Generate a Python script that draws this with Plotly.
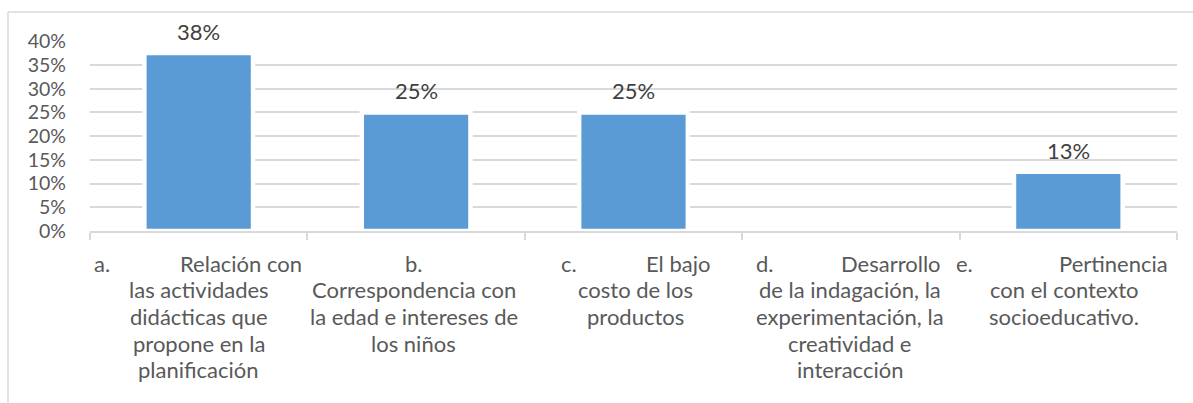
import plotly.graph_objects as go

# ---- data ----
letters = ["a.", "b.", "c.", "d.", "e."]
first_words = ["Relación con", "", "El bajo", "Desarrollo", "Pertinencia"]
rest_lines = [
    ["las actividades", "didácticas que", "propone en la", "planificación"],
    ["Correspondencia con", "la edad e intereses de", "los niños"],
    ["costo de los", "productos"],
    ["de la indagación, la", "experimentación, la", "creatividad e", "interacción"],
    ["con el contexto", "socioeducativo."],
]
categories = [
    " ".join([l] + ([f] if f else []) + r)
    for l, f, r in zip(letters, first_words, rest_lines)
]
values = [0.375, 0.25, 0.25, 0.0, 0.125]
value_labels = ["38%", "25%", "25%", "", "13%"]

# ---- layout / styling parameters ----
FONT = "Lato"
TXT = "#595959"
GRID = "#d9d9d9"
FS = 22
FS_Y = 19.5
W, H = 1193, 403
ML, MR, MT, MB = 90, 16, 41, 172.3
plot_w = W - ML - MR
plot_h = H - MT - MB
block_shift = [-0.5, -2.5, 2, -2, -6.5]      # center offset of justified first line (px)
block_half = [106, 0, 76.5, 94.5, 108]       # half-width of justified first line
center_shift = [0, -2.5, 2, -1, -4]          # offset of centered lines (px)
line0 = 263 - (H - MB)                        # first label line center rel. to axis (px)
line_step = 26.6

fig = go.Figure()
fig.add_trace(go.Bar(
    x=categories, y=values,
    marker=dict(color="#5b9bd5", line=dict(color="white", width=4.5)),
    hoverinfo="skip",
))

annotations = []
# data labels
for c, v, t in zip(categories, values, value_labels):
    if t:
        annotations.append(dict(x=c, y=v, xref="x", yref="y", text=t, showarrow=False,
                                yanchor="middle", yshift=21.5,
                                font=dict(family=FONT, size=FS, color="#404040")))
# category labels
for i, c in enumerate(categories):
    sh = block_shift[i]
    if first_words[i]:
        annotations.append(dict(x=c, y=0, xref="x", yref="paper", text=letters[i],
                                showarrow=False, xanchor="left", yanchor="middle",
                                xshift=sh - block_half[i], yshift=-line0,
                                font=dict(family=FONT, size=FS, color=TXT)))
        annotations.append(dict(x=c, y=0, xref="x", yref="paper", text=first_words[i],
                                showarrow=False, xanchor="right", yanchor="middle",
                                xshift=sh + block_half[i], yshift=-line0,
                                font=dict(family=FONT, size=FS, color=TXT)))
    else:
        annotations.append(dict(x=c, y=0, xref="x", yref="paper", text=letters[i],
                                showarrow=False, xanchor="center", yanchor="middle",
                                xshift=sh, yshift=-line0,
                                font=dict(family=FONT, size=FS, color=TXT)))
    for j, line in enumerate(rest_lines[i]):
        annotations.append(dict(x=c, y=0, xref="x", yref="paper", text=line,
                                showarrow=False, xanchor="center", yanchor="middle",
                                xshift=center_shift[i], yshift=-(line0 + (j + 1) * line_step),
                                font=dict(family=FONT, size=FS, color=TXT)))

# chart-area border (left and top edges visible)
bx = (8 - ML) / plot_w
by_top = (H - MB - 12) / plot_h
by_bot = (H - MB - H) / plot_h
bx_r = (W - ML) / plot_w
shapes = [
    dict(type="line", xref="paper", yref="paper", x0=bx, x1=bx, y0=by_bot, y1=by_top,
         line=dict(color=GRID, width=1.5)),
    dict(type="line", xref="paper", yref="paper", x0=bx, x1=bx_r, y0=by_top, y1=by_top,
         line=dict(color=GRID, width=1.5)),
]

fig.update_layout(
    width=W, height=H,
    margin=dict(l=ML, r=MR, t=MT, b=MB, pad=0, autoexpand=False),
    plot_bgcolor="white", paper_bgcolor="white",
    bargap=0.5, showlegend=False,
    annotations=annotations, shapes=shapes,
    font=dict(family=FONT, size=FS, color=TXT),
)
fig.update_xaxes(
    type="category", range=[-0.5, len(categories) - 0.5],
    showticklabels=False, showgrid=False, automargin=False,
    showline=True, linecolor=GRID, linewidth=1.5,
    ticks="outside", tickson="boundaries", ticklen=7, tickcolor=GRID, tickwidth=1.5,
)
fig.update_yaxes(
    range=[0, 0.4005], dtick=0.05, tick0=0, tickformat=".0%", automargin=False,
    showgrid=True, gridcolor=GRID, gridwidth=1.5, zeroline=False,
    showline=False, ticks="", ticklabelstandoff=23,
    tickfont=dict(family=FONT, size=FS_Y, color=TXT),
)

fig.write_html(
    "out.html",
    config={"displayModeBar": False},
    post_script="document.body.style.margin='0';document.body.style.overflow='hidden';",
)
